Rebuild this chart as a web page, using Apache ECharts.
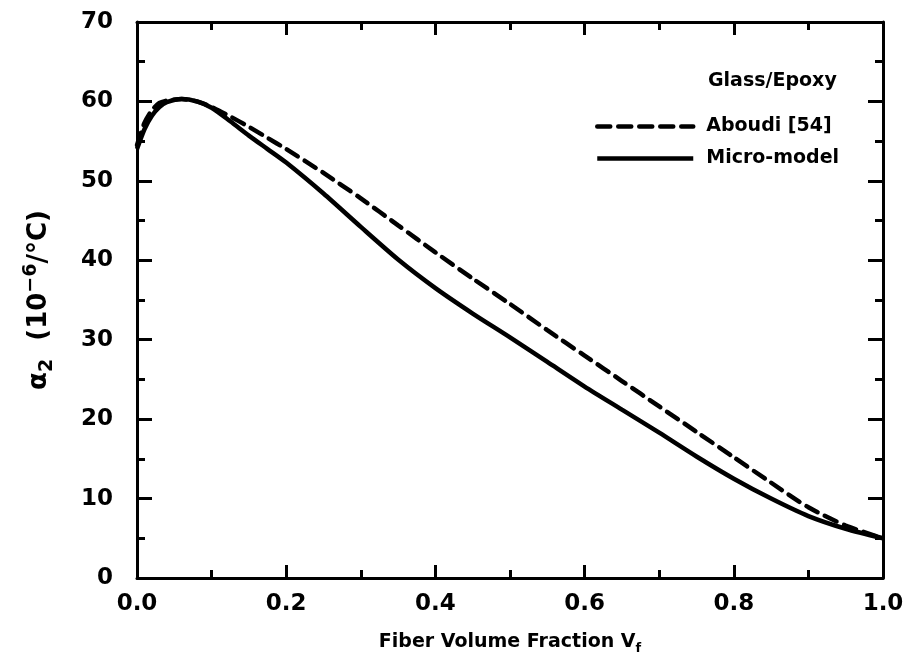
<!DOCTYPE html>
<html>
<head>
<meta charset="utf-8">
<script src="https://cdn.jsdelivr.net/npm/echarts@6/dist/echarts.min.js"></script>
<style>
html,body{margin:0;padding:0;background:#fff;}
#c{width:908px;height:672px;}
</style>
</head>
<body>
<div id="c"></div>
<script>
const vf = [0, 0.01, 0.02, 0.03, 0.04, 0.06, 0.08, 0.1, 0.125, 0.15, 0.175, 0.2, 0.25, 0.3, 0.35, 0.4, 0.45, 0.5, 0.55, 0.6, 0.65, 0.7, 0.75, 0.8, 0.85, 0.9, 0.95, 1.0];
const microModel = [54.0, 56.5, 58.2, 59.3, 59.9, 60.3, 60.0, 59.2, 57.5, 55.7, 54.0, 52.3, 48.4, 44.2, 40.1, 36.5, 33.3, 30.3, 27.2, 24.1, 21.2, 18.3, 15.3, 12.5, 10.0, 7.8, 6.2, 5.0];
const aboudi = [54.5, 57.3, 58.9, 59.8, 60.1, 60.3, 60.0, 59.3, 58.1, 56.8, 55.4, 54.0, 51.0, 47.8, 44.4, 41.0, 37.7, 34.5, 31.2, 28.0, 24.8, 21.6, 18.4, 15.2, 12.0, 8.9, 6.6, 5.0];
const seriesNames = ['Aboudi [54]', 'Micro-model'];
const legendTitle = 'Glass/Epoxy';

const pairs = (xs, ys) => xs.map((x, i) => [x, ys[i]]);
const font = '"DejaVu Sans", Verdana, sans-serif';

const chart = echarts.init(document.getElementById('c'), null, {renderer: 'canvas'});
const axisLine = {show: true, onZero: false, lineStyle: {color: '#000', width: 3}};
const tickStyle = {width: 3, color: '#000'};
chart.setOption({
  animation: false,
  backgroundColor: '#fff',
  grid: {left: 137, right: 25, top: 22, bottom: 94},
  legend: {
    orient: 'vertical',
    left: 590, top: 112,
    itemWidth: 96, itemHeight: 18, itemGap: 13,
    data: seriesNames,
    itemStyle: {opacity: 0},
    lineStyle: {width: 4.5},
    textStyle: {fontFamily: font, fontWeight: 'bold', fontSize: 19, color: '#000', padding: [0, 0, 0, 8]}
  },
  graphic: [{
    type: 'text', left: 708, top: 72,
    style: {text: legendTitle, font: 'bold 19px ' + font, fill: '#000'}
  }],
  xAxis: [{
    type: 'value', min: 0, max: 1, interval: 0.2,
    name: '{n|Fiber Volume Fraction V}{s|f}',
    nameLocation: 'middle', nameGap: 52,
    nameTextStyle: {rich: {
      n: {fontFamily: font, fontWeight: 'bold', fontSize: 19, color: '#000'},
      s: {fontFamily: font, fontWeight: 'bold', fontSize: 13, color: '#000', verticalAlign: 'bottom', padding: [12, 0, 0, 0]}
    }},
    axisLine: axisLine,
    axisTick: {show: true, inside: true, length: 13, lineStyle: tickStyle},
    minorTick: {show: true, splitNumber: 2, length: 8, lineStyle: tickStyle},
    splitLine: {show: false},
    axisLabel: {fontFamily: font, fontWeight: 'bold', fontSize: 23, color: '#000', margin: 15,
      formatter: v => v.toFixed(1)}
  }, {
    type: 'value', position: 'top', min: 0, max: 1, interval: 0.2,
    axisLine: axisLine,
    axisTick: {show: true, inside: true, length: 13, lineStyle: tickStyle},
    minorTick: {show: true, splitNumber: 2, length: 8, lineStyle: tickStyle},
    splitLine: {show: false}, axisLabel: {show: false}
  }],
  yAxis: [{
    type: 'value', min: 0, max: 70, interval: 10,
    name: '{a|α}{s|2}{a|  (10}{p|−6}{a|/°C)}',
    nameLocation: 'middle', nameGap: 80, nameRotate: 90,
    nameTextStyle: {rich: {
      a: {fontFamily: font, fontWeight: 'bold', fontSize: 26, color: '#000'},
      s: {fontFamily: font, fontWeight: 'bold', fontSize: 19, color: '#000', padding: [16, 0, 0, 0]},
      p: {fontFamily: font, fontWeight: 'bold', fontSize: 19, color: '#000', padding: [0, 0, 16, 0]}
    }},
    axisLine: axisLine,
    axisTick: {show: true, inside: true, length: 15, lineStyle: tickStyle},
    minorTick: {show: true, splitNumber: 2, length: 8, lineStyle: tickStyle},
    splitLine: {show: false},
    axisLabel: {fontFamily: font, fontWeight: 'bold', fontSize: 23, color: '#000', margin: 24}
  }, {
    type: 'value', position: 'right', min: 0, max: 70, interval: 10,
    axisLine: axisLine,
    axisTick: {show: true, inside: true, length: 15, lineStyle: tickStyle},
    minorTick: {show: true, splitNumber: 2, length: 8, lineStyle: tickStyle},
    splitLine: {show: false}, axisLabel: {show: false}
  }],
  series: [{
    name: seriesNames[0], type: 'line', smooth: 0.25, showSymbol: false, symbol: 'none',
    data: pairs(vf, aboudi),
    lineStyle: {color: '#000', width: 4.5, type: [13, 8], cap: 'round'},
    itemStyle: {color: '#000'}
  }, {
    name: seriesNames[1], type: 'line', smooth: 0.25, showSymbol: false, symbol: 'none',
    data: pairs(vf, microModel),
    lineStyle: {color: '#000', width: 4.5, type: 'solid'},
    itemStyle: {color: '#000'}
  }]
});
</script>
</body>
</html>
